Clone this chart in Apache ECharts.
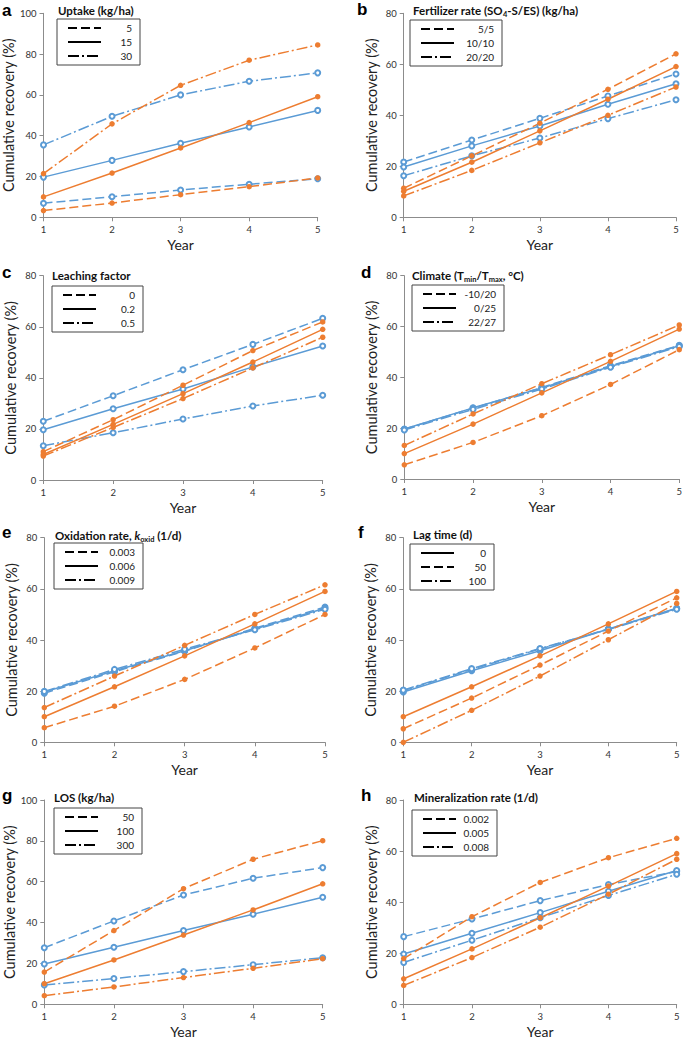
<!DOCTYPE html>
<html><head><meta charset="utf-8">
<script src="https://cdn.jsdelivr.net/npm/echarts@6/dist/echarts.min.js"></script>
<style>html,body{margin:0;padding:0;background:#fff}#c{width:685px;height:1043px}</style>
</head><body><div id="c"></div>
<script>
const years = [1, 2, 3, 4, 5];
const yTicks100 = [0, 20, 40, 60, 80, 100];
const yTicks80 = [0, 20, 40, 60, 80];

// a: Uptake (kg/ha)  – order: 5, 15, 30
const aLabels = ['5', '15', '30'];
const aBlue = [[6.9,10.1,13.4,16.2,18.9],[19.7,27.9,36.3,44.3,52.4],[35.5,49.5,60.0,66.7,70.8]];
const aOrange = [[3.3,7.0,11.1,15.0,19.3],[10.0,21.7,34.0,46.4,59.1],[21.4,45.8,64.7,77.0,84.5]];
// b: Fertilizer rate
const bLabels = ['5/5', '10/10', '20/20'];
const bBlue = [[21.7,30.3,38.8,47.6,56.2],[19.7,28.0,35.8,44.3,52.4],[16.3,24.1,31.1,38.7,46.1]];
const bOrange = [[11.4,24.1,36.9,50.2,64.1],[10.2,21.6,33.9,46.3,59.1],[8.4,18.4,29.2,40.0,51.1]];
// c: Leaching factor
const cLabels = ['0', '0.2', '0.5'];
const cBlue = [[23.0,33.0,43.2,53.1,63.3],[19.7,27.9,35.6,44.3,52.5],[13.4,18.5,23.9,29.0,33.2]];
const cOrange = [[11.1,23.6,37.1,50.7,61.9],[10.0,21.8,33.8,46.2,59.0],[9.4,20.6,31.9,43.9,55.9]];
// d: Climate
const dLabels = ['-10/20', '0/25', '22/27'];
const dBlue = [[19.6,27.9,36.0,44.6,52.6],[19.7,28.0,35.8,44.3,52.4],[19.3,27.4,35.4,44.0,52.1]];
const dOrange = [[5.6,14.4,24.9,37.2,50.9],[10.0,21.6,33.9,46.3,59.0],[13.2,25.6,37.5,48.9,60.6]];
// e: Oxidation rate
const eLabels = ['0.003', '0.006', '0.009'];
const eBlue = [[19.2,27.6,35.6,44.6,52.9],[19.7,28.0,35.8,44.3,52.4],[19.9,28.5,36.4,44.0,52.0]];
const eOrange = [[5.7,14.1,24.6,36.9,50.0],[10.0,21.7,33.8,46.3,59.0],[13.6,25.9,37.9,50.0,61.6]];
// f: Lag time – order: 0, 50, 100
const fLabels = ['0', '50', '100'];
const fBlue = [[19.7,28.0,35.8,44.3,52.4],[20.2,28.5,36.5,44.3,52.3],[20.4,28.8,36.7,44.1,52.0]];
const fOrange = [[10.0,21.7,33.8,46.3,59.0],[5.3,17.3,30.2,43.5,56.5],[0.0,12.5,25.9,40.1,54.3]];
// g: LOS
const gLabels = ['50', '100', '300'];
const gBlue = [[27.7,40.8,53.5,61.7,66.9],[19.7,27.9,36.1,44.1,52.4],[9.5,12.6,16.0,19.4,22.8]];
const gOrange = [[15.8,36.1,56.6,71.0,80.1],[10.1,21.7,33.9,46.2,59.0],[4.2,8.5,13.1,17.6,22.3]];
// h: Mineralization rate
const hLabels = ['0.002', '0.005', '0.008'];
const hBlue = [[26.5,33.4,40.6,46.9,52.0],[19.7,27.8,35.9,44.3,52.4],[16.4,25.1,33.9,42.6,50.9]];
const hOrange = [[17.9,34.3,47.7,57.4,65.0],[10.0,21.7,33.9,46.3,59.0],[7.4,18.3,30.2,43.1,56.8]];

const BLUE = '#5b9bd5', ORANGE = '#ed7d31';
const DASH = {dash: [9, 4], solid: 'solid', dashdot: [11, 3, 2, 3]};
const FONT = 'Lato';

const panels = [
 {id:'a', title:'Uptake (kg/ha)', labels:aLabels, blue:aBlue, orange:aOrange, styles:['dash','solid','dashdot'], ticks:yTicks100,
  grid:{left:43.5, top:13.3, width:274.2, height:204}, lg:{left:57, top:19, w:26}, tx:58, ty:4, lx:2, ly:2},
 {id:'b', title:'Fertilizer rate (SO{sub|4}-S/ES) (kg/ha)', labels:bLabels, blue:bBlue, orange:bOrange, styles:['dash','solid','dashdot'], ticks:yTicks80,
  grid:{left:403.7, top:13.3, width:272.3, height:204}, lg:{left:410, top:20, w:35}, tx:413, ty:3, lx:357, ly:1},
 {id:'c', title:'Leaching factor', labels:cLabels, blue:cBlue, orange:cOrange, styles:['dash','solid','dashdot'], ticks:yTicks80,
  grid:{left:43.3, top:275.7, width:279.4, height:204.3}, lg:{left:52, top:286, w:34}, tx:52, ty:269, lx:2, ly:264},
 {id:'d', title:'Climate (T{sub|min}/T{sub|max}, °C)', labels:dLabels, blue:dBlue, orange:dOrange, styles:['dash','solid','dashdot'], ticks:yTicks80,
  grid:{left:404.3, top:275.7, width:276.7, height:203.3}, lg:{left:412, top:285, w:35}, tx:412, ty:268, lx:361, ly:264},
 {id:'e', title:'Oxidation rate, {it|k}{sub|oxid} (1/d)', labels:eLabels, blue:eBlue, orange:eOrange, styles:['dash','solid','dashdot'], ticks:yTicks80,
  grid:{left:44.3, top:537.7, width:280.7, height:204.6}, lg:{left:54, top:543, w:32}, tx:55, ty:528, lx:2, ly:524},
 {id:'f', title:'Lag time (d)', labels:fLabels, blue:fBlue, orange:fOrange, styles:['solid','dash','dashdot'], ticks:yTicks80,
  grid:{left:403.3, top:537.7, width:273.4, height:204.6}, lg:{left:410, top:544, w:27}, tx:413, ty:528, lx:358, ly:524},
 {id:'g', title:'LOS (kg/ha)', labels:gLabels, blue:gBlue, orange:gOrange, styles:['dash','solid','dashdot'], ticks:yTicks100,
  grid:{left:44.3, top:800, width:278.4, height:204.3}, lg:{left:54, top:808, w:31}, tx:54, ty:791, lx:2, ly:787},
 {id:'h', title:'Mineralization rate (1/d)', labels:hLabels, blue:hBlue, orange:hOrange, styles:['dash','solid','dashdot'], ticks:yTicks80,
  grid:{left:403.7, top:800, width:273, height:204.3}, lg:{left:412, top:810, w:28}, tx:414, ty:791, lx:361, ly:787}
];

const option = {
  animation: false,
  backgroundColor: '#fff',
  textStyle: {fontFamily: FONT},
  grid: [], xAxis: [], yAxis: [], series: [], legend: [], title: []
};

const axisCol = '#8c8c8c';
panels.forEach((p, i) => {
  option.grid.push(Object.assign({containLabel: false}, p.grid));
  option.xAxis.push({
    type: 'value', gridIndex: i, min: years[0], max: years[years.length - 1], interval: 1,
    name: 'Year', nameLocation: 'middle', nameGap: 20,
    nameTextStyle: {fontSize: 14, color: '#222', fontFamily: FONT},
    axisLine: {lineStyle: {color: axisCol, width: 1}},
    axisTick: {show: true, length: 4, lineStyle: {color: axisCol}},
    axisLabel: {fontSize: 9.5, color: '#333', margin: 7, fontFamily: FONT},
    splitLine: {show: false}
  });
  const ymax = p.ticks[p.ticks.length - 1];
  option.yAxis.push({
    type: 'value', gridIndex: i, min: p.ticks[0], max: ymax, interval: p.ticks[1] - p.ticks[0],
    name: 'Cumulative recovery (%)', nameLocation: 'middle', nameGap: 25, nameRotate: 90,
    nameTextStyle: {fontSize: 14.5, color: '#222', fontFamily: FONT},
    axisLine: {show: true, lineStyle: {color: axisCol, width: 1}},
    axisTick: {show: true, length: 4, lineStyle: {color: axisCol}},
    axisLabel: {fontSize: 9.5, color: '#333', margin: 7, fontFamily: FONT},
    splitLine: {show: false}
  });
  p.styles.forEach((st, k) => {
    option.series.push({
      type: 'line', xAxisIndex: i, yAxisIndex: i, name: p.id + '|b' + k,
      data: years.map((x, j) => [x, p.blue[k][j]]),
      symbol: 'emptyCircle', symbolSize: 5, showSymbol: true,
      itemStyle: {color: BLUE, borderColor: BLUE, borderWidth: 1},
      lineStyle: {color: BLUE, width: 1.5, type: DASH[st]}
    });
  });
  p.styles.forEach((st, k) => {
    option.series.push({
      type: 'line', xAxisIndex: i, yAxisIndex: i, name: p.id + '|o' + k,
      data: years.map((x, j) => [x, p.orange[k][j]]),
      symbol: 'circle', symbolSize: 5.5, showSymbol: true,
      itemStyle: {color: ORANGE},
      lineStyle: {color: ORANGE, width: 1.5, type: DASH[st]}
    });
  });
  const legNames = [];
  p.styles.forEach((st, k) => {
    const nm = p.id + '|' + p.labels[k];
    legNames.push(nm);
    option.series.push({
      type: 'line', xAxisIndex: i, yAxisIndex: i, name: nm, data: [],
      symbol: 'none', itemStyle: {color: '#000'},
      lineStyle: {color: '#000', width: 1.8, type: DASH[st]}
    });
  });
  option.legend.push({
    data: legNames, orient: 'vertical', left: p.lg.left, top: p.lg.top,
    itemWidth: 33, itemHeight: 10, itemGap: 4, padding: [4, 8, 4, 10],
    borderColor: '#444', borderWidth: 1, selectedMode: false,
    itemStyle: {opacity: 0},
    formatter: n => '{r|' + n.split('|')[1] + '}',
    textStyle: {fontSize: 10, color: '#222', fontFamily: FONT,
      rich: {r: {width: p.lg.w, align: 'right', fontSize: 10, fontFamily: FONT, color: '#222'}}}
  });
  option.title.push({
    text: p.title, left: p.tx, top: p.ty, padding: 0,
    textStyle: {fontSize: 11.5, fontWeight: 'bold', color: '#111', fontFamily: FONT,
      rich: {
        sub: {fontSize: 7.5, fontWeight: 'bold', verticalAlign: 'bottom', padding: [7, 0, 0, 0], fontFamily: FONT, color: '#111'},
        it: {fontSize: 11.5, fontWeight: 'bold', fontStyle: 'italic', fontFamily: FONT, color: '#111'}
      }}
  });
  option.title.push({
    text: p.id, left: p.lx, top: p.ly, padding: 0,
    textStyle: {fontSize: 17, fontWeight: 'bold', color: '#000', fontFamily: 'Liberation Sans'}
  });
});

const chart = echarts.init(document.getElementById('c'), null, {renderer: 'svg'});
chart.setOption(option);
</script></body></html>
